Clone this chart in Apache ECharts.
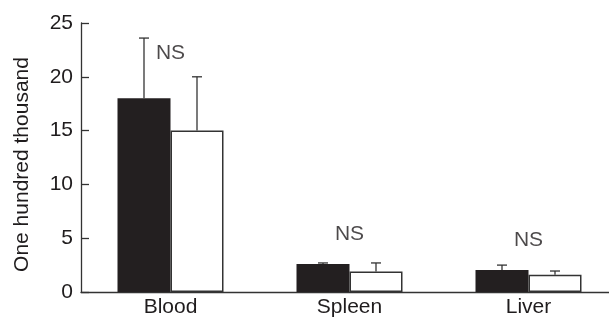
<!DOCTYPE html>
<html>
<head>
<meta charset="utf-8">
<script src="https://cdn.jsdelivr.net/npm/echarts@6/dist/echarts.min.js"></script>
<style>html,body{margin:0;padding:0;background:#fff;overflow:hidden;}#c{width:618px;height:321px;}</style>
</head>
<body>
<div id="c"></div>
<script>
var categories = ['Blood', 'Spleen', 'Liver'];
var blackValues = [18, 2.6, 2.05];
var blackErrTop = [23.6, 2.7, 2.5];
var whiteValues = [15, 1.9, 1.6];
var whiteErrTop = [20, 2.7, 1.95];
var nsLabels = ['NS', 'NS', 'NS'];
var nsY = [22.2, 5.4, 4.8];
var yTicks = [0, 5, 10, 15, 20, 25];

var FONT = "'Liberation Sans', Arial, sans-serif";
var TXT = '#1f1c1d';
var BAR_W = 53;

function errItem(offset) {
  return function (params, api) {
    var base = api.coord([api.value(0), api.value(1)]);
    var top = api.coord([api.value(0), api.value(2)]);
    var x = base[0] + offset;
    return {
      type: 'group',
      children: [
        { type: 'line', shape: { x1: x, y1: base[1], x2: x, y2: top[1] }, style: { stroke: '#333', lineWidth: 1.3 } },
        { type: 'line', shape: { x1: x - 5, y1: top[1], x2: x + 5, y2: top[1] }, style: { stroke: '#333', lineWidth: 1.3 } }
      ]
    };
  };
}

var chart = echarts.init(document.getElementById('c'), null, { renderer: 'canvas' });
chart.setOption({
  animation: false,
  backgroundColor: '#fff',
  grid: { left: 81, top: 23, width: 537, height: 269, containLabel: false },
  xAxis: {
    type: 'category',
    data: categories,
    axisLine: { lineStyle: { color: '#333', width: 1.3 } },
    axisTick: { inside: true, length: 8, lineStyle: { color: '#333', width: 1.3 } },
    axisLabel: { color: TXT, fontSize: 21, fontFamily: FONT, margin: 5 }
  },
  yAxis: {
    type: 'value',
    min: yTicks[0],
    max: yTicks[yTicks.length - 1],
    interval: 5,
    name: 'One hundred thousand',
    nameLocation: 'middle',
    nameGap: 48,
    nameTextStyle: { color: TXT, fontSize: 21, fontFamily: FONT, padding: [0, 14, 0, 0] },
    axisLine: { show: true, lineStyle: { color: '#333', width: 1.3 } },
    axisTick: { show: true, inside: true, length: 8, lineStyle: { color: '#333', width: 1.3 } },
    axisLabel: { color: TXT, fontSize: 21, fontFamily: FONT, margin: 8 },
    splitLine: { show: false }
  },
  series: [
    {
      type: 'bar', data: blackValues, barWidth: BAR_W, barGap: '0%',
      itemStyle: { color: '#231f20' }, z: 2
    },
    {
      type: 'bar', data: whiteValues, barWidth: BAR_W, barGap: '0%',
      itemStyle: { color: '#ffffff', borderColor: '#333', borderWidth: 1.5 }, z: 2
    },
    {
      type: 'custom', renderItem: errItem(-BAR_W / 2), z: 3,
      data: categories.map(function (c, i) { return [i, blackValues[i], blackErrTop[i]]; })
    },
    {
      type: 'custom', renderItem: errItem(BAR_W / 2), z: 3,
      data: categories.map(function (c, i) { return [i, whiteValues[i], whiteErrTop[i]]; })
    },
    {
      type: 'scatter', symbolSize: 0, z: 4,
      data: categories.map(function (c, i) { return [i, nsY[i]]; }),
      label: {
        show: true, position: 'inside',
        formatter: function (p) { return nsLabels[p.dataIndex]; },
        color: TXT, fontSize: 21, fontFamily: FONT
      }
    }
  ]
});
</script>
</body>
</html>
